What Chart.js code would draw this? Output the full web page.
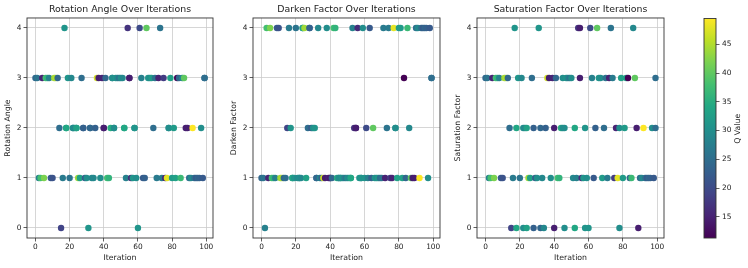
<!DOCTYPE html>
<html><head><meta charset="utf-8">
<script src="https://cdn.jsdelivr.net/npm/chart.js@4.4.0/dist/chart.umd.min.js"></script>
<style>
html,body{margin:0;padding:0;background:#fff;}
#wrap{position:relative;width:748px;height:268px;overflow:hidden;background:#fff;}
canvas{position:absolute;top:0;}
</style></head><body>
<div id="wrap">
<canvas id="c1" width="223" height="268" style="left:0px"></canvas>
<canvas id="c2" width="224" height="268" style="left:226px"></canvas>
<canvas id="c3" width="224" height="268" style="left:450px"></canvas>
<canvas id="cb" width="58" height="268" style="left:690px"></canvas>
</div>
<script>
// ---- data (one entry per logged step) ----
const iterations = [
 0,1,2,3,4,5,6,7,8,9, 10,11,12,13,14,15,16,17, 18,18, 19,20,21, 22,22, 23, 24,24, 25,26,27, 28,28,
 29,30,31, 32,32, 33,34,35,36,37,38,39, 40,40, 41,42,43,44, 45,45, 46,46, 47,48,49,50,51, 52,52, 53,54,
 55,55, 56,57, 58,58, 59,60,61,62,63,64,65,66,67,68,69,70,71,72,73,74,75,76,77, 78,78,
 79,80,81,82,83,84,85,86,87,88,89,90,91,92,93,94,95,96,97,98, 99,99];
const rotation = [
 3,3,1,1,3,1,3,3,3,1, 1,3,3,3,2,0,1,4, 2,2, 3,1,3, 2,2, 2, 2,2, 1,1,3, 2,2,
 1,1,0, 2,2, 1,1,2,3,3,1,3, 2,2, 3,1,1,2, 3,3, 2,2, 3,3,3,3,3, 2,2, 1,4,
 3,3, 1,1, 2,2, 1,0,4,3,1,1,4,3,3,3,2,3,1,3,4,1,3,1,1, 2,2,
 3,1,2,1,3,3,1,3,3,2,2,1,1,2,1,1,1,1,2,1, 3,3];
const darken = [
 1,1,0,4,1,4,1,1,1,4, 4,1,1,1,1,2,4,2, 1,1, 1,4,1, 1,1, 1, 4,4, 4,1,2, 4,4,
 2,2,2, 1,1, 4,1,1,1,1,4,1, 1,1, 1,4,4,1, 1,1, 1,1, 1,1,1,1,1, 1,1, 4,2,
 2,2, 4,1, 1,1, 4,1,2,1,4,1,2,1,1,1,1,1,4,1,2,4,1,1,4, 2,2,
 1,4,4,1,3,1,4,2,1,1,1,4,4,1,4,4,4,4,1,4, 3,3];
const saturation = [
 3,3,1,1,3,1,3,3,3,1, 1,3,3,3,2,0,1,4, 2,0, 3,1,3, 0,2, 2, 0,2, 1,1,3, 0,2,
 1,1,4, 0,2, 1,0,2,3,3,1,3, 0,2, 3,1,1,2, 3,2, 0,2, 3,3,3,3,1, 0,2, 1,4,
 4,3, 1,1, 0,2, 1,0,4,3,1,2,4,3,3,1,2,3,1,3,4,3,1,2,1, 0,2,
 3,1,2,3,3,1,1,4,3,2,0,1,1,2,1,1,1,1,2,1, 3,2];
const qValues = [
 24,26,28,38,15,42,38,36,28,22, 21,44,45,24,25,19,27,31, 34,34, 31,26,29, 30,30, 29, 33,33, 44,33,25, 23,23,
 22,30,31, 24,24, 29,29,23,47,14.5,30,15, 14.5,14.5, 24,38,36,35, 30,30, 30,30, 31,29,26,30,29, 34,34, 28,17,
 14.5,14.5, 16,31, 31,31, 30,31,20,28,22,23,40,31,30,32,25,26,27,15,26,27,18,15,48, 30,30,
 33,32,32,33,11.3,24,37,29,40,14.5,14.5,25,29,49.5,26,22,24,23,30,22, 25,25];

const xTicks = [0, 20, 40, 60, 80, 100];
const yTicks = [0, 1, 2, 3, 4];
const cbTicks = [15, 20, 25, 30, 35, 40, 45];
const titles = ['Rotation Angle Over Iterations', 'Darken Factor Over Iterations', 'Saturation Factor Over Iterations'];
const yLabels = ['Rotation Angle', 'Darken Factor', 'Saturation Factor'];
const xLabel = 'Iteration';
const cbLabel = 'Q Value';

// ---- viridis colormap ----
const viridisStops = ['#440154','#482475','#414487','#355f8d','#2a788e','#21918c','#22a884','#44bf70','#7ad151','#bddf26','#fde725'];
const qMin = Math.min(...qValues), qMax = Math.max(...qValues);
function hex2rgb(h){return [parseInt(h.slice(1,3),16),parseInt(h.slice(3,5),16),parseInt(h.slice(5,7),16)];}
function viridis(t){
  t = Math.max(0, Math.min(1, t));
  const n = viridisStops.length - 1;
  const i = Math.min(n - 1, Math.floor(t * n));
  const f = t * n - i;
  const a = hex2rgb(viridisStops[i]), b = hex2rgb(viridisStops[i+1]);
  return 'rgb(' + a.map((v,k)=>Math.round(v + (b[k]-v)*f)).join(',') + ')';
}
const pointColors = qValues.map(q => viridis((q - qMin) / (qMax - qMin)));

const FONT = 'DejaVu Sans';
const TXT = '#222';
const GRID = '#cccccc';
const frame = {
  id:'frame',
  afterDatasetsDraw(chart){
    const a = chart.chartArea, ctx = chart.ctx;
    ctx.save();
    ctx.strokeStyle = '#333'; ctx.lineWidth = 0.9;
    ctx.strokeRect(a.left, a.top, a.right - a.left, a.bottom - a.top);
    ctx.restore();
  }
};

function makeChart(id, idx, yVals){
  const pts = iterations.map((x, i) => ({x: x, y: yVals[i]}));
  return new Chart(document.getElementById(id), {
    type: 'scatter',
    data: {datasets: [{data: pts, backgroundColor: pointColors, borderWidth: 0, pointRadius: 3.2, pointHoverRadius: 3.2}]},
    options: {
      responsive: false, animation: false, devicePixelRatio: 1,
      layout: {padding: {left: 0, right: 10, top: 0, bottom: 0}},
      events: [],
      plugins: {
        legend: {display: false}, tooltip: {enabled: false},
        title: {display: true, text: titles[idx], fullSize: false, color: TXT,
                font: {family: FONT, size: 9.4, weight: 'normal'}, padding: {top: 4.4, bottom: 2.3}}
      },
      scales: {
        x: {
          type: 'linear', min: -4.95, max: 103.95,
          afterBuildTicks: s => { s.ticks = xTicks.map(v => ({value: v})); },
          afterFit: s => { s.height = 30; },
          grid: {color: GRID, lineWidth: 0.8, tickLength: 3.5, tickColor: '#333', tickWidth: 0.8},
          border: {display: false},
          ticks: {padding: 1.5, color: TXT, font: {family: FONT, size: 7.4}, maxRotation: 0, autoSkip: false},
          title: {display: true, text: xLabel, color: TXT, font: {family: FONT, size: 7.8}, padding: {top: 0, bottom: 5.3}}
        },
        y: {
          type: 'linear', min: -0.2, max: 4.2,
          afterBuildTicks: s => { s.ticks = yTicks.map(v => ({value: v})); },
          afterFit: s => { s.width = 27; },
          grid: {color: GRID, lineWidth: 0.8, tickLength: 3.5, tickColor: '#333', tickWidth: 0.8},
          border: {display: false},
          ticks: {padding: 2, color: TXT, font: {family: FONT, size: 7.4}, autoSkip: false},
          title: {display: true, text: yLabels[idx], color: TXT, font: {family: FONT, size: 7.8}, padding: {top: 3.3, bottom: 0}}
        }
      }
    },
    plugins: [frame]
  });
}
makeChart('c1', 0, rotation);
makeChart('c2', 1, darken);
makeChart('c3', 2, saturation);

// ---- colorbar ----
const cbPlugin = {
  id: 'cbar',
  beforeDatasetsDraw(chart){
    const a = chart.chartArea, ctx = chart.ctx;
    const g = ctx.createLinearGradient(0, a.bottom, 0, a.top);
    viridisStops.forEach((c, i) => g.addColorStop(i / (viridisStops.length - 1), c));
    ctx.save();
    ctx.fillStyle = g;
    ctx.fillRect(a.left, a.top, a.right - a.left, a.bottom - a.top);
    ctx.strokeStyle = '#333'; ctx.lineWidth = 0.9;
    ctx.strokeRect(a.left, a.top, a.right - a.left, a.bottom - a.top);
    ctx.translate(48, (a.top + a.bottom) / 2 + 0.5);
    ctx.rotate(-Math.PI / 2);
    ctx.fillStyle = TXT; ctx.font = '7.8px "' + FONT + '"';
    ctx.textAlign = 'center'; ctx.textBaseline = 'middle';
    ctx.fillText(cbLabel, 0, 0);
    ctx.restore();
  }
};
new Chart(document.getElementById('cb'), {
  type: 'scatter',
  data: {datasets: []},
  options: {
    responsive: false, animation: false, devicePixelRatio: 1, events: [],
    layout: {padding: {left: 14, right: 0, top: 18.5, bottom: 30}},
    plugins: {legend: {display: false}, tooltip: {enabled: false}, title: {display: false}},
    scales: {
      x: {display: false, min: 0, max: 1},
      y: {
        position: 'right', min: qMin, max: qMax,
        afterBuildTicks: s => { s.ticks = cbTicks.map(v => ({value: v})); },
        afterFit: s => { s.width = 32; },
        grid: {drawOnChartArea: false, tickLength: 3.5, tickColor: '#333', tickWidth: 0.8},
        border: {display: false},
        ticks: {padding: 2.5, color: TXT, font: {family: FONT, size: 7.4}, autoSkip: false}
      }
    }
  },
  plugins: [cbPlugin]
});
</script>
</body></html>
